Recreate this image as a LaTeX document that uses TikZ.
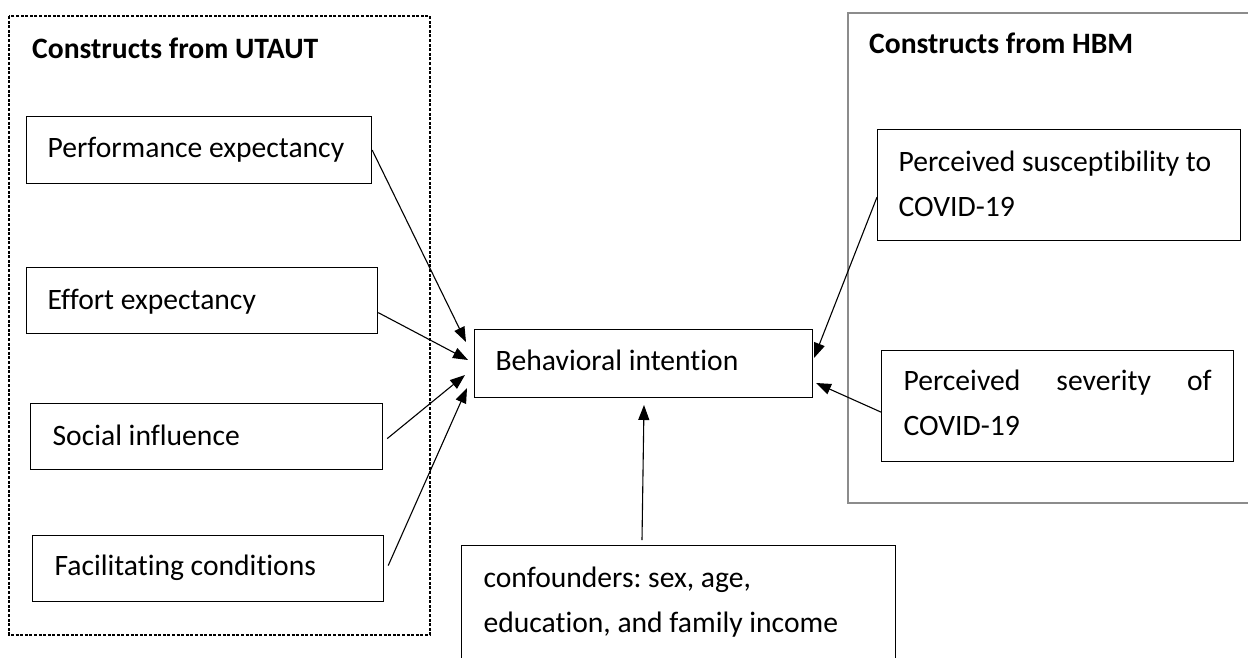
\documentclass[tikz,border=0pt]{standalone}
\usepackage{fontspec}
\setmainfont{Carlito}[Ligatures=NoCommon]
\usetikzlibrary{arrows.meta,calc}
\newcommand{\bodyfont}{\fontsize{29.6}{44.5}\selectfont\frenchspacing}
\begin{document}
\begin{tikzpicture}[x=1pt,y=-1pt,
  box/.style={draw, line width=1.2pt, anchor=north west, inner ysep=0pt, align=flush left, font=\bodyfont},
  title/.style={anchor=base west, inner sep=0pt, font=\bodyfont\bfseries},
  conn/.style={line width=1.1pt, -{Triangle[length=15pt,width=11pt]}},
  group/.style={line width=1.2pt}
]
\clip (0,0) rectangle (1248,657);
\fill[white] (0,0) rectangle (1248,657);

% group frames
\draw[group, dash pattern=on 3pt off 1.6pt] (9,16) rectangle (430,635);
\draw[group, draw=black!45] (848,13) rectangle (1262,503);
\node[title] (tutaut) at (32,58) {Constructs from UTAUT};
\node[title] (thbm) at (869,53) {Constructs from HBM};

% UTAUT boxes
\node[box, inner xsep=21pt, text width=303pt, text height=41pt, text depth=26pt] (perf) at (26,116) {Performance expectancy};
\node[box, inner xsep=21pt, text width=309pt, text height=42pt, text depth=24pt] (eff) at (26,267) {Effort expectancy};
\node[box, inner xsep=22pt, text width=308pt, text height=42pt, text depth=24pt] (soc) at (30,403) {Social influence};
\node[box, inner xsep=22pt, text width=307pt, text height=40pt, text depth=26pt] (fac) at (32,535) {Facilitating conditions};

% central
\node[box, inner xsep=21pt, text width=296pt, text height=41pt, text depth=27pt] (bi) at (474,329) {Behavioral intention};

% HBM boxes
\node[box, inner xsep=21pt, text width=321pt, text height=42pt, text depth=69pt] (sus) at (877,129) {\mbox{Perceived susceptibility to}\\COVID-19};
\node[box, inner xsep=22pt, text width=308pt, text height=40pt, text depth=71pt] (sev) at (881,350) {Perceived\hfill severity\hfill of\\COVID-19};

% confounders
\node[box, inner xsep=22pt, text width=390pt, text height=42pt, text depth=103pt] (conf) at (461,545) {confounders: sex, age,\\education, and family income};

% arrow ends
\coordinate (e1) at (466,342);
\coordinate (e2) at (468,360);
\coordinate (e3) at (465,375);
\coordinate (e4) at (467,388);
\coordinate (e5) at (814,358);
\coordinate (e6) at (816,383);
\coordinate (e7) at (644,405);

\draw[conn] (perf.east) -- (e1);
\draw[conn] ($(eff.east)+(0,12)$) -- (e2);
\draw[conn] ($(soc.east)+(4,2)$) -- (e3);
\draw[conn] ($(fac.east)+(4,-3)$) -- (e4);
\draw[conn] ($(sus.west)+(0,12)$) -- (e5);
\draw[conn] ($(sev.west)+(0,6)$) -- (e6);
\draw[conn] ($(conf.north west)+(181,-5)$) -- (e7);
\end{tikzpicture}
\end{document}
